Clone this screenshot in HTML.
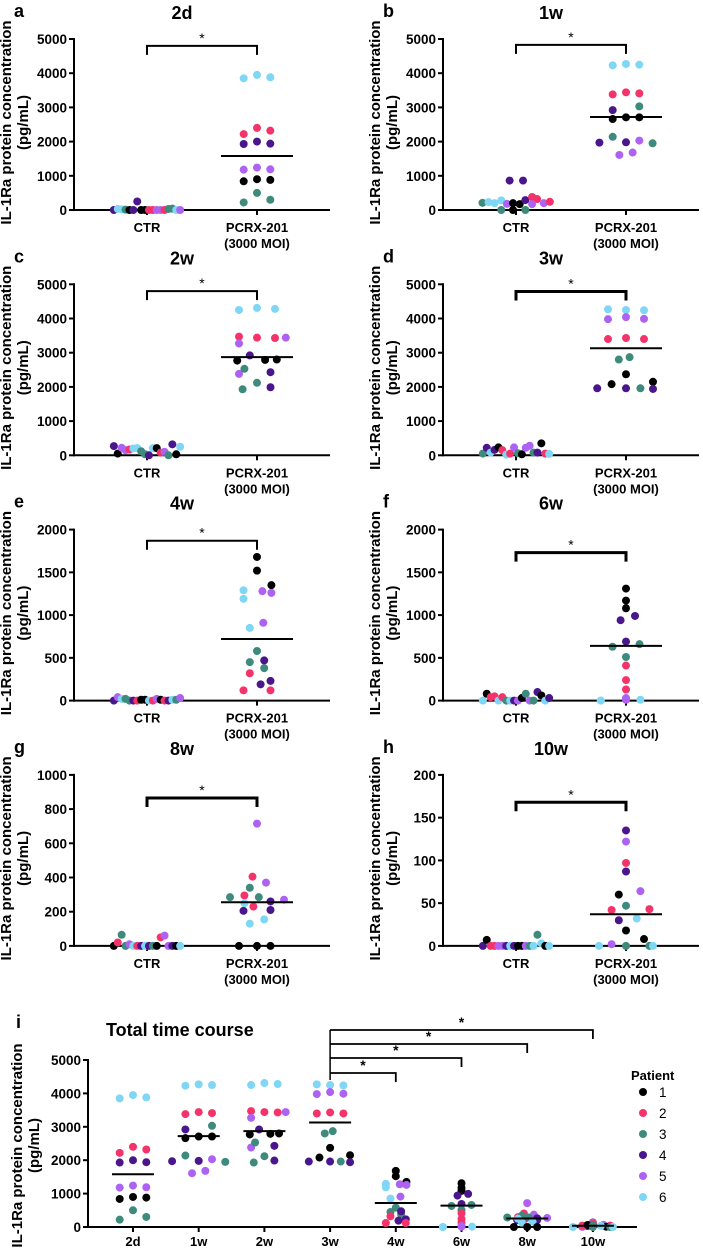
<!DOCTYPE html>
<html><head><meta charset="utf-8">
<style>
html,body{margin:0;padding:0;background:#fff;}
svg{display:block;font-family:"Liberation Sans",Arial,sans-serif;}
</style></head>
<body>
<svg id="fig" width="703" height="1249" viewBox="0 0 703 1249" xmlns="http://www.w3.org/2000/svg"></svg>
<script>
// ---------- data ----------
const timepoints = ["2d","1w","2w","3w","4w","6w","8w","10w"];
const panelLetters = ["a","b","c","d","e","f","g","h"];
const axisMax = [5000,5000,5000,5000,2000,2000,1000,200];
const tickLabels5000 = [0,1000,2000,3000,4000,5000];
const tickLabels2000 = [0,500,1000,1500,2000];
const tickLabels1000 = [0,200,400,600,800,1000];
const tickLabels200 = [0,50,100,150,200];
const panelTicks = [tickLabels5000,tickLabels5000,tickLabels5000,tickLabels5000,tickLabels2000,tickLabels2000,tickLabels1000,tickLabels200];
const bracketValue = [4800,4830,4800,4790,1870,1730,865,168];
const meanValue = [1580,2720,2870,3130,720,640,255,37];
const groupLabels = ["CTR","PCRX-201"];
const patientIds = [1,2,3,4,5,6];
const patientColors = ["#000000","#f5336b","#3e8a7d","#4a168c","#ad62f2","#80d6f5"];

const ctrPatient2d = [4,6,6,3,1,4,4,1,1,2,2,5,5,2,3,3,6,5];
const ctrValue2d   = [0,30,20,10,0,0,250,0,0,0,0,0,0,0,30,40,0,0];
const ctrPatient1w = [3,6,6,6,3,5,1,4,1,1,4,4,3,2,2,5,5,2];
const ctrValue1w   = [210,230,200,280,0,180,200,860,0,170,860,290,0,380,320,170,200,240];
const ctrSlot1w    = [-5,-4.1,-3.2,-2.2,-2.2,-1.35,-0.45,-0.95,-0.45,0.55,1.05,1.4,1.4,2.4,3.15,2.4,4.15,5.05];
const ctrPatient2w = [4,1,5,5,2,6,6,3,3,4,6,1,2,5,3,4,1,6];
const ctrValue2w   = [270,50,220,150,170,200,210,120,30,0,210,210,80,100,0,320,30,250];
const ctrPatient3w = [3,4,6,4,1,2,6,2,5,3,1,5,5,3,4,1,2,6];
const ctrValue3w   = [50,220,80,160,230,150,20,50,230,60,30,220,280,80,80,350,50,40];
const ctrPatient4w = [4,5,6,3,3,4,2,1,1,6,2,5,1,2,4,6,3,5];
const ctrValue4w   = [0,40,20,20,0,0,0,10,10,0,0,20,10,0,0,10,10,30];
const ctrPatient6w = [6,1,2,2,6,2,3,6,4,5,1,3,5,3,4,1,6,4];
const ctrValue6w   = [0,80,40,50,0,40,0,0,0,0,30,80,0,0,100,60,0,30];
const ctrPatient8w = [1,2,3,3,5,6,2,4,6,4,3,1,2,5,5,4,1,6];
const ctrValue8w   = [0,20,65,0,10,0,0,0,0,0,0,0,50,60,0,0,0,0];
const ctrPatient10w= [4,1,2,2,5,5,4,6,4,1,1,5,3,6,3,6,1,6];
const ctrValue10w  = [0,7,0,0,0,0,0,0,0,0,0,0,0,0,13,3,0,0];

const trtPatient2d = [6,6,6,2,2,2,4,4,4,5,5,5,1,1,1,3,3,3];
const trtValue2d   = [3850,3950,3880,2220,2400,2320,1930,2000,1940,1180,1240,1190,840,900,880,220,500,300];
const trtSlot2d    = [-1,0,1,-1,0,1,-1,0,1,-1,0,1,-1,0,1,-1,0,1];
const trtPatient1w = [6,6,6,2,2,2,4,4,4,3,3,3,1,1,1,5,5,5];
const trtValue1w   = [4230,4270,4250,3380,3440,3410,2920,1970,1980,3030,2140,1950,2660,2710,2710,2030,1610,1680];
const trtSlot1w    = [-1,0,1,-1,0,1,-1,-2,0,1,-1,2,-1,0,1,1,-0.5,0.5];
const trtPatient2w = [6,6,6,2,2,2,5,5,5,4,4,4,1,1,1,3,3,3];
const trtValue2w   = [4250,4310,4280,3470,3440,3430,3270,3440,2380,2920,2430,1990,2770,2790,2800,2530,2120,1930];
const trtSlot2w    = [-1,0,1,-1,0,1,-1,1.6,-1,-0.4,0.75,0.75,-1.1,0.45,1.1,-0.7,0,-0.8];
const trtPatient3w = [6,6,6,5,5,5,2,2,2,3,3,3,1,1,1,4,4,4];
const trtValue3w   = [4270,4250,4240,3980,4040,3990,3400,3430,3400,2800,2870,1960,2370,2080,2150,1960,1960,1940];
const trtSlot3w    = [-1,0,1,-1,0,1,-1,0,1,-0.4,0.2,0.8,0,-0.8,1.5,-1.6,0,1.5];
const trtPatient4w = [1,1,1,6,6,6,5,5,5,3,3,3,4,4,4,2,2,2];
const trtValue4w   = [1680,1520,1350,1290,1190,850,1280,1260,910,580,450,380,470,190,230,320,120,120];
const trtSlot4w    = [0,0,0.8,-0.75,-0.75,-0.4,0.3,0.8,0.35,0,-0.4,0.4,0.4,0.2,0.75,-0.4,-0.75,0.75];
const trtPatient6w = [1,1,1,4,4,4,3,3,3,2,2,2,6,6,6,5,5,5];
const trtValue6w   = [1310,1170,1080,940,990,690,630,660,510,410,240,130,0,10,0,30,20,10];
const trtSlot6w    = [0,0,0,-0.3,0.5,0,-0.75,0.75,0,0,0,0,-1.4,0.8,-1.4,0,0,0];
const trtPatient8w = [5,5,5,2,2,2,3,3,3,4,4,4,6,6,6,1,1,1];
const trtValue8w   = [715,370,270,405,295,230,340,285,285,205,260,210,130,155,250,0,0,0];
const trtSlot8w    = [0,0.5,1.5,-0.25,-0.7,-0.2,-0.4,0.1,-1.5,-0.75,0.75,0.75,-0.4,0.4,-0.7,-1,0,0.75];
const trtPatient10w= [4,4,4,5,5,5,2,2,2,1,1,1,3,3,3,6,6,6];
const trtValue10w  = [135,87,30,122,64,2,97,42,43,60,18,8,47,0,0,32,0,0];
const trtSlot10w   = [0,0,-0.4,0,0.8,-0.8,0,-0.8,1.3,-0.4,0,1,0,0,1.3,0.6,-1.5,1.5];

const compareFrom = "3w";
const compareTo = ["4w","6w","8w","10w"];
const totalTicks = [0,1000,2000,3000,4000,5000];
const totalMax = 5000;

const ctrP = [ctrPatient2d,ctrPatient1w,ctrPatient2w,ctrPatient3w,ctrPatient4w,ctrPatient6w,ctrPatient8w,ctrPatient10w];
const ctrV = [ctrValue2d,ctrValue1w,ctrValue2w,ctrValue3w,ctrValue4w,ctrValue6w,ctrValue8w,ctrValue10w];
const trtP = [trtPatient2d,trtPatient1w,trtPatient2w,trtPatient3w,trtPatient4w,trtPatient6w,trtPatient8w,trtPatient10w];
const trtV = [trtValue2d,trtValue1w,trtValue2w,trtValue3w,trtValue4w,trtValue6w,trtValue8w,trtValue10w];
const trtS = [trtSlot2d,trtSlot1w,trtSlot2w,trtSlot3w,trtSlot4w,trtSlot6w,trtSlot8w,trtSlot10w];

// ---------- drawing ----------
const NS = "http://www.w3.org/2000/svg";
const svg = document.getElementById("fig");
const R = 4;
function mk(tag, attrs, parent, text){
  const e = document.createElementNS(NS, tag);
  for (const k in attrs) e.setAttribute(k, attrs[k]);
  if (text !== undefined) e.textContent = text;
  (parent||svg).appendChild(e);
  return e;
}
function line(x1,y1,x2,y2,w,parent){ return mk("line",{x1:x1,y1:y1,x2:x2,y2:y2,stroke:"#000","stroke-width":w||2},parent); }

function yLabel(g, cx, cy){
  const t = mk("text",{transform:`translate(${cx},${cy}) rotate(-90)`,"text-anchor":"middle","font-size":"15","font-weight":"bold"},g);
  
  
  mk("tspan",{x:0,dy:0},t,"IL-1Ra protein concentration");
  mk("tspan",{x:0,dy:17},t,"(pg/mL)");
}

function drawPanel(i){
  const col = i % 2, row = Math.floor(i/2);
  const ax = 74 + col*369;
  const zero = 210 + row*245.3;
  const H = 171;
  const xEnd = ax + 256;
  const xC = ax + 73, xT = ax + 183;
  const unit = (i < 2) ? 13.3 : 18;
  const ctrStep = (i === 1) ? 6.7 : 3.9;
  const y = v => zero - v / axisMax[i] * H;

  const g = mk("g",{});
  
  

  const lt = mk("text",{x:ax-60,y:zero-H-22,"font-size":"18","font-weight":"bold"},g,panelLetters[i]);
  
  
  const tt = mk("text",{x:(ax+xEnd)/2-20,y:zero-H-20,"font-size":"18","font-weight":"bold","text-anchor":"middle"},g,timepoints[i]);
  
  
  yLabel(g, ax-63, zero - H/2 - 2);

  const ya = line(ax,zero-H-1,ax,zero+1,2,g);
  
  
  const xa = line(ax-1,zero,xEnd,zero,2,g);
  
  
  panelTicks[i].forEach(v=>{
    line(ax-5,y(v),ax,y(v),2,g);
    const tl = mk("text",{x:ax-7,y:y(v)+5,"font-size":"13.5","font-weight":"bold","text-anchor":"end"},g,String(v));
    
    
  });
  [xC,xT].forEach(x=>line(x,zero,x,zero+5,2,g));
  const c1 = mk("text",{x:xC,y:zero+22,"font-size":"13","font-weight":"bold","text-anchor":"middle"},g,groupLabels[0]);
  
  
  const c2 = mk("text",{x:xT,y:zero+22,"font-size":"13","font-weight":"bold","text-anchor":"middle"},g,groupLabels[1]);
  
  
  const c3 = mk("text",{x:xT,y:zero+38,"font-size":"13","font-weight":"bold","text-anchor":"middle"},g,"(3000 MOI)");
  
  

  const by = y(bracketValue[i]);
  const bw = (i===3||i>=5) ? 3 : 2;
  const br = mk("path",{d:`M${xC},${by+9} V${by} H${xT} V${by+9}`,fill:"none",stroke:"#000","stroke-width":bw},g);
  
  
  const st = mk("text",{x:(xC+xT)/2,y:by-3,"font-size":"14","text-anchor":"middle"},g,"*");
  
  

  ctrV[i].forEach((v,k)=>{
    const s = (i===1) ? ctrSlot1w[k] : (k-8.5);
    const d = mk("circle",{cx:xC + s*ctrStep, cy:y(v), r:R, fill:patientColors[ctrP[i][k]-1]},g);
    
    
  });
  trtV[i].forEach((v,k)=>{
    const d = mk("circle",{cx:xT + trtS[i][k]*unit, cy:y(v), r:R, fill:patientColors[trtP[i][k]-1]},g);
    
    
  });
  const ml = line(xT-36,y(meanValue[i]),xT+36,y(meanValue[i]),2,g);
  
  
}
for (let i=0;i<8;i++) drawPanel(i);

(function(){
  const ax = 88, zero = 1227, H = 167, xEnd = 637;
  const y = v => zero - v/totalMax*H;
  const xCat = k => 133 + k*65.7;
  const g = mk("g",{});
  
  
  const lt = mk("text",{x:16,y:1028,"font-size":"18","font-weight":"bold"},g,"i");
  
  
  const tt = mk("text",{x:106,y:1036,"font-size":"18","font-weight":"bold"},g,"Total time course");
  
  
  yLabel(g, 22, zero - H/2 + 2);
  const ya = line(ax,zero-H-1,ax,zero+1,2,g);
  
  
  const xa = line(ax-1,zero,xEnd,zero,2,g);
  
  
  totalTicks.forEach(v=>{
    line(ax-5,y(v),ax,y(v),2,g);
    const tl = mk("text",{x:ax-7,y:y(v)+5,"font-size":"13.5","font-weight":"bold","text-anchor":"end"},g,String(v));
    
    
  });
  timepoints.forEach((t,k)=>{
    line(xCat(k),zero,xCat(k),zero+5,2,g);
    const xl = mk("text",{x:xCat(k),y:zero+19,"font-size":"13","font-weight":"bold","text-anchor":"middle"},g,t);
    
    
    trtV[k].forEach((v,j)=>{
      const d = mk("circle",{cx:xCat(k)+trtS[k][j]*13.3, cy:y(v), r:R, fill:patientColors[trtP[k][j]-1]},g);
      
      
    });
    const ml = line(xCat(k)-21,y(meanValue[k]),xCat(k)+21,y(meanValue[k]),2,g);
    
    
  });
  const x0 = xCat(timepoints.indexOf(compareFrom));
  const levels = [1073,1058,1044,1030];
  line(x0,levels[3],x0,1080,1.5,g);
  compareTo.forEach((t,k)=>{
    const x1 = xCat(timepoints.indexOf(t));
    const b = mk("path",{d:`M${x0},${levels[k]} H${x1} V${levels[k]+9}`,fill:"none",stroke:"#000","stroke-width":1.8},g);
    
    
    const s = mk("text",{x:(x0+x1)/2,y:levels[k]-3,"font-size":"14","font-weight":"bold","text-anchor":"middle"},g,"*");
    
    
  });
  const lg = mk("g",{},g);
  
  
  const lh = mk("text",{x:631,y:1080,"font-size":"13","font-weight":"bold"},lg,"Patient");
  
  
  patientIds.forEach((p,k)=>{
    const cy = 1092 + k*21;
    const d = mk("circle",{cx:643,cy:cy,r:R,fill:patientColors[k]},lg);
    
    
    const t = mk("text",{x:659,y:cy+5,"font-size":"13.5"},lg,String(p));
    
    
  });
})();
</script>
</body></html>
